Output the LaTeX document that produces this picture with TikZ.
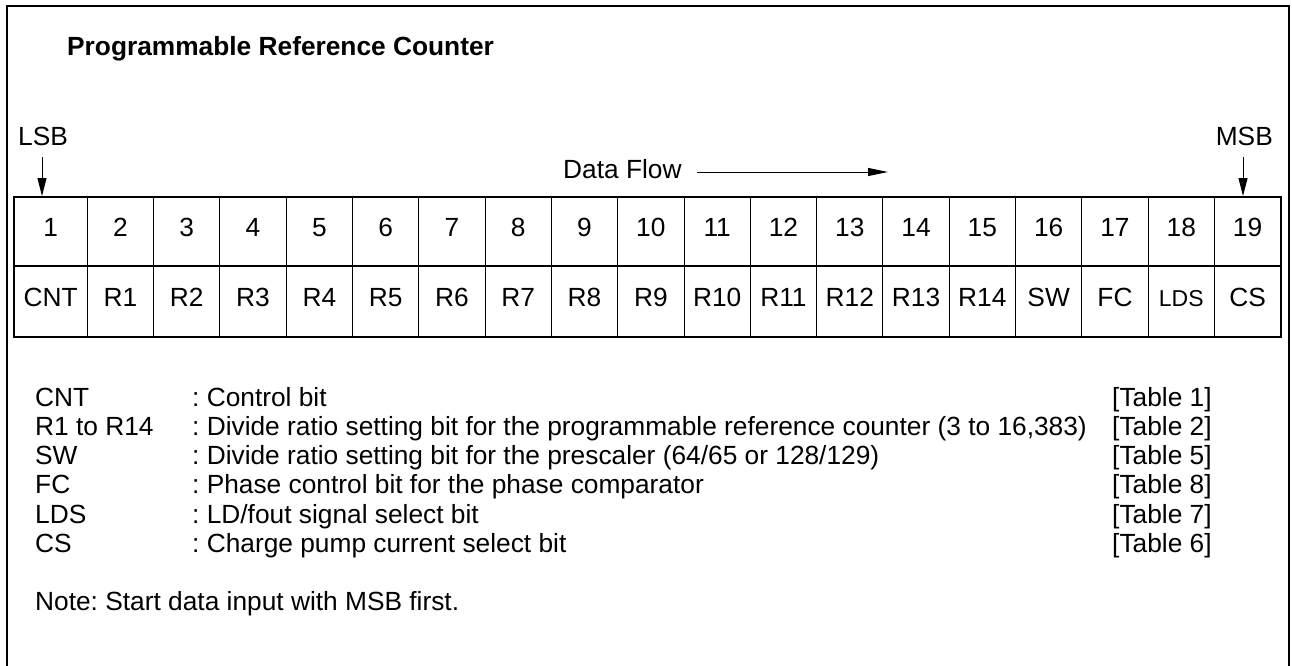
\documentclass[tikz,border=0pt]{standalone}
\usepackage{fontspec}
\setmainfont{Liberation Sans}
\usetikzlibrary{arrows.meta}
\frenchspacing
\tikzset{
  txt/.style={font=\fontsize{26.3}{29}\selectfont, inner sep=0pt},
  ttl/.style={font=\fontsize{26.3}{29}\selectfont\bfseries, inner sep=0pt},
  small/.style={font=\fontsize{23}{26}\selectfont, inner sep=0pt},
  frame/.style={line width=2pt},
  thick box/.style={line width=2.5pt},
  thin line/.style={line width=1pt},
  arr/.style={line width=1pt, -{Triangle[length=18pt,width=9pt]}},
  flowarr/.style={line width=1pt, -{Triangle[length=20pt,width=8pt]}}
}
\begin{document}
\begin{tikzpicture}[x=1pt,y=-1pt]
\useasboundingbox (0,0) rectangle (1292,665);
% outer frame (open at bottom)
\draw[frame] (7,680) -- (7,6) -- (1289,6) -- (1289,680);
% title
\node[ttl, anchor=base west] (title) at (67,55) {Programmable Reference Counter};
% LSB / MSB
\node[txt, anchor=base west] (lsb) at (18,145) {LSB};
\node[txt, anchor=base east] (msb) at (1273,145) {MSB};
\coordinate (lsbtop) at (42,157);
\coordinate (lsbtip) at (42,196);
\coordinate (msbtop) at (1243,157);
\coordinate (msbtip) at (1243,196);
\draw[arr] (lsbtop) -- (lsbtip);
\draw[arr] (msbtop) -- (msbtip);
% data flow
\node[txt, anchor=base west] (df) at (563,178) {Data Flow};
\coordinate (dfs) at (697,172);
\coordinate (dfe) at (888,172);
\draw[flowarr] (dfs) -- (dfe);
% table grid
\foreach \k in {0,...,17} {
  \pgfmathsetmacro{\xx}{87.3+\k*66.3}
  \draw[thin line] (\xx,197) -- (\xx,337);
}
\draw[thick box] (14,266) -- (1281,266);
\draw[thick box] (14,197) rectangle (1281,337);
% cell texts
\node[txt, anchor=base] (n1) at (50.6,236.5) {1};
\node[txt, anchor=base] (b1) at (50.6,306.5) {CNT};
\foreach \k/\lab in {2/R1,3/R2,4/R3,5/R4,6/R5,7/R6,8/R7,9/R8,10/R9,11/R10,12/R11,13/R12,14/R13,15/R14,16/SW,17/FC,19/CS} {
  \pgfmathsetmacro{\xc}{87.3+(\k-2)*66.3+33.15}
  \node[txt, anchor=base] (n\k) at (\xc,236.5) {\k};
  \node[txt, anchor=base] (b\k) at (\xc,306.5) {\lab};
}
\pgfmathsetmacro{\xe}{87.3+16*66.3+33.15}
\node[txt, anchor=base] (n18) at (\xe,236.5) {18};
\node[small, anchor=base] (b18) at (\xe,306.5) {LDS};
% legend
\foreach \i/\a/\d/\t in {
  0/CNT/Control bit/Table 1,
  1/R1 to R14/Divide ratio setting bit for the programmable reference counter (3 to 16{,}383)/Table 2,
  2/SW/Divide ratio setting bit for the prescaler (64\slash 65 or 128\slash 129)/Table 5,
  3/FC/Phase control bit for the phase comparator/Table 8,
  4/LDS/LD\slash fout signal select bit/Table 7,
  5/CS/Charge pump current select bit/Table 6} {
  \pgfmathsetmacro{\yy}{406+\i*29.3}
  \node[txt, anchor=base west] (la\i) at (35,\yy) {\a};
  \node[txt, anchor=base west] (ld\i) at (192,\yy) {: \d};
  \node[txt, anchor=base west] (lt\i) at (1112,\yy) {[\t]};
}
\node[txt, anchor=base west] (note) at (35,610) {Note: Start data input with MSB first.};
\end{tikzpicture}
\end{document}
